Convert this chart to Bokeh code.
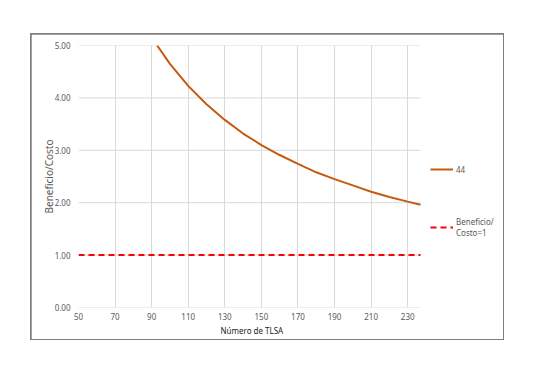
from bokeh.plotting import figure
from bokeh.models import Range1d, FixedTicker, NumeralTickFormatter, Legend, Title
from bokeh.embed import file_html
from bokeh.resources import INLINE

# Data
tlsa = [93, 100, 110, 120, 130, 140, 150, 160, 170, 180, 190, 200, 210, 220, 230, 237]
bc_44 = [5.00, 4.65, 4.23, 3.88, 3.58, 3.32, 3.10, 2.91, 2.74, 2.58, 2.45, 2.33, 2.21, 2.11, 2.02, 1.96]
ref_x = [50, 237]
ref_y = [1.0, 1.0]
x_min, x_max = 50, 237
x_ticks = [50, 70, 90, 110, 130, 150, 170, 190, 210, 230]
y_ticks = [0, 1, 2, 3, 4, 5]

FONT = "Noto Sans"
GRAY = "#595959"
GRID = "#d9d9d9"

# frame is wider than the data area so the legend can sit to its right
p = figure(frame_width=422, frame_height=262, output_backend="svg", toolbar_location=None,
           x_range=Range1d(50, 280.75), y_range=Range1d(0, 5),
           min_border_left=47, min_border_right=3, min_border_top=11, min_border_bottom=32,
           margin=(34, 0, 0, 31),
           styles={"outline": "2px solid #7f7f7f", "outline-offset": "-1px"})
p.outline_line_color = None
p.background_fill_color = "white"
p.border_fill_color = "white"

# horizontal gridlines limited to the data area
p.segment(x0=[x_min] * len(y_ticks), x1=[x_max] * len(y_ticks), y0=y_ticks, y1=y_ticks,
          line_color=GRID, line_width=1)
p.ygrid.grid_line_color = None
p.xgrid.grid_line_color = GRID

r1 = p.line(tlsa, bc_44, line_color="#C55A11", line_width=2)
r2 = p.line(ref_x, ref_y, line_color="#FF0000", line_width=2, line_dash="6 4")

p.xaxis.ticker = FixedTicker(ticks=x_ticks)
p.yaxis.ticker = FixedTicker(ticks=y_ticks)
p.yaxis.formatter = NumeralTickFormatter(format="0.00")
for ax in (p.xaxis, p.yaxis):
    ax.axis_line_color = None
    ax.major_tick_line_color = None
    ax.minor_tick_line_color = None
    ax.major_tick_out = 0
    ax.major_tick_in = 0
    ax.minor_tick_out = 0
    ax.major_label_text_font = FONT
    ax.major_label_text_font_size = "8px"
    ax.major_label_text_color = GRAY
    ax.axis_label_text_font = FONT
    ax.axis_label_text_font_style = "normal"
p.xaxis.major_label_standoff = 5
p.xaxis.bounds = (x_min, x_max)
p.yaxis.axis_label = "Beneficio/Costo"
p.yaxis.axis_label_text_color = GRAY
p.yaxis.axis_label_text_font_size = "10px"
p.yaxis.major_label_standoff = 8
p.yaxis.axis_label_standoff = -4

# x-axis title centred under the data area (not the wider frame)
xtitle = Title(text="Número de TLSA", align="left", offset=142, standoff=0,
               text_font=FONT, text_font_size="8px", text_font_style="normal",
               text_color="#222222")
p.add_layout(xtitle, "below")

legend = Legend(items=[("44", [r1]), ("Beneficio/\nCosto=1", [r2])],
                location=(352, 69), padding=0, margin=0, spacing=37,
                glyph_width=23, label_standoff=3,
                label_text_font=FONT, label_text_font_size="8px", label_text_color=GRAY,
                border_line_color=None, background_fill_alpha=0)
p.add_layout(legend)

open("out.html", "w").write(file_html(p, INLINE))
